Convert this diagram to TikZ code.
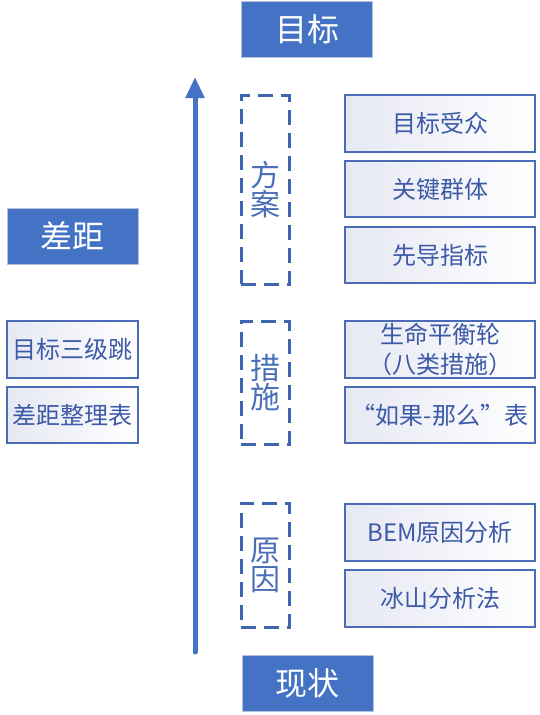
\documentclass[tikz,border=0pt]{standalone}
\usepackage{fontspec}
\setmainfont{Noto Sans CJK SC}
\usetikzlibrary{arrows.meta}
\definecolor{bluefill}{HTML}{4472C4}
\definecolor{blueedge}{HTML}{B4C2DC}
\definecolor{lineblue}{HTML}{4A6CB8}
\definecolor{textblue}{HTML}{3D5AA8}
\definecolor{lav}{HTML}{E6E8F3}
\definecolor{dashblue}{HTML}{3F66B2}
\definecolor{dashtext}{HTML}{4A6FB8}
\begin{document}
\begin{tikzpicture}[x=1pt,y=-1pt,
  bluebox/.style={draw=blueedge,line width=1pt,fill=bluefill,text=white,
    minimum width=131pt,minimum height=56pt,inner sep=0pt,font=\fontsize{32}{34}\selectfont},
  lightbox/.style={draw=lineblue,line width=1.2pt,left color=lav,right color=white,
    text=textblue,minimum width=190pt,minimum height=57pt,inner sep=0pt,
    font=\fontsize{24}{28}\selectfont,align=center},
  leftbox/.style={lightbox,minimum width=131pt},
  dashbox/.style={draw=dashblue,line width=3pt,dash pattern=on 15pt off 8pt,
    minimum width=48pt,inner sep=0pt,text=dashtext,
    font=\fontsize{30}{33}\selectfont,align=center}]
\useasboundingbox (0,0) rectangle (540,715);
% blue boxes
\node[bluebox] (goal) at (307,29) {目标};
\node[bluebox] (gap) at (72.5,236) {差距};
\node[bluebox] (now) at (307.5,683) {现状};
% arrow
\coordinate (abot) at (195,652);
\coordinate (atop) at (195,77);
\draw[line width=5pt,draw=bluefill,line cap=round,-{Triangle[width=18pt,length=21pt]}] (abot) -- (atop);
% dashed boxes
\node[dashbox,minimum height=189pt] (plan) at (265,189.5) {方\\[-4pt]案};
\node[dashbox,minimum height=123pt] (meas) at (265,382.5) {措\\[-4pt]施};
\node[dashbox,minimum height=124pt] (cause) at (265,565) {原\\[-4pt]因};
% right boxes
\node[lightbox] (r1) at (440,123.5) {目标受众};
\node[lightbox,minimum height=56pt] (r2) at (440,189) {关键群体};
\node[lightbox,minimum height=56pt] (r3) at (440,255) {先导指标};
\node[lightbox,font=\fontsize{24}{30}\selectfont] (r4) at (440,349.5) {生命平衡轮\\（八类措施）};
\node[lightbox,minimum height=56pt] (r5) at (440,415) {“如果-那么”表};
\node[lightbox] (r6) at (440,532.5) {BEM原因分析};
\node[lightbox] (r7) at (440,598.5) {冰山分析法};
% left boxes
\node[leftbox] (l1) at (72.5,349.5) {目标三级跳};
\node[leftbox,minimum height=56pt] (l2) at (72.5,415) {差距整理表};
\end{tikzpicture}
\end{document}
